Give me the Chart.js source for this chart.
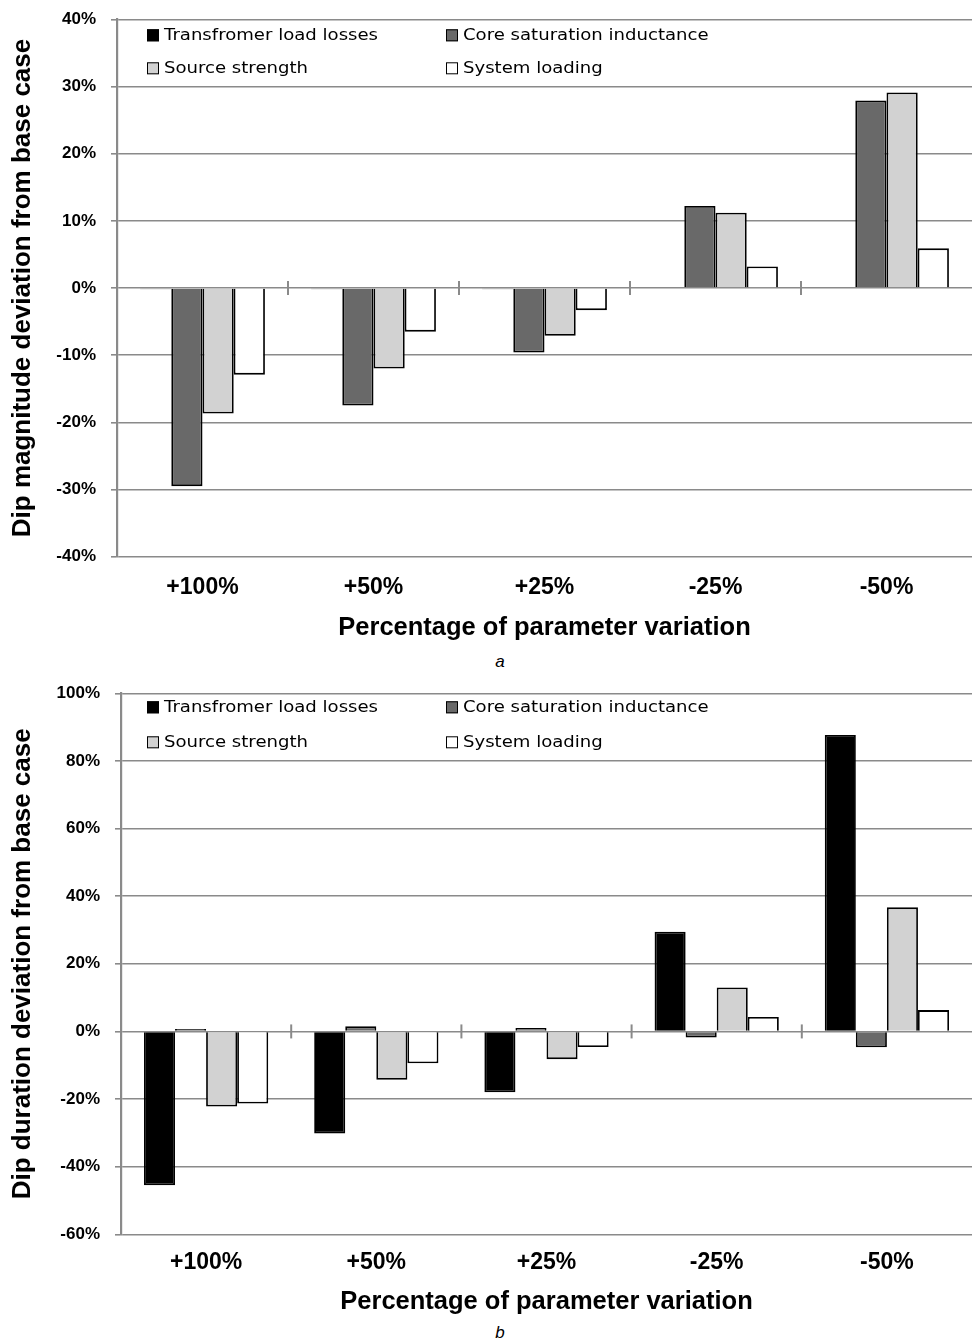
<!DOCTYPE html>
<html>
<head>
<meta charset="utf-8">
<script src="https://cdn.jsdelivr.net/npm/chart.js@4.4.1/dist/chart.umd.min.js"></script>
<style>
  html, body { margin: 0; padding: 0; background: #fff; }
  body { width: 972px; height: 1343px; position: relative; overflow: hidden; }
  .panel { position: absolute; left: 0; width: 972px; height: 650px; }
  .caption { position: absolute; left: 0; width: 1000px; text-align: center;
             font: italic 17px "Liberation Sans", Arial, sans-serif; color: #000; }
</style>
</head>
<body>
<div class="panel" style="top:0"><canvas id="chartA" width="972" height="650"></canvas></div>
<div class="caption" style="top:652px">a</div>
<div class="panel" style="top:672px"><canvas id="chartB" width="972" height="650"></canvas></div>
<div class="caption" style="top:1323px">b</div>

<script>
// Categories: percentage of parameter variation
const categories = ['+100%', '+50%', '+25%', '-25%', '-50%'];

const seriesNames = ['Transfromer load losses', 'Core saturation inductance', 'Source strength', 'System loading'];

// (a) dip magnitude deviation from base case, %
const magTransformerLoss = [-0.2, -0.2, -0.2, 0.1, 0.1];
const magCoreSaturation  = [-29.5, -17.5, -9.6, 12.2, 27.9];
const magSourceStrength  = [-18.7, -12.0, -7.1, 11.2, 29.1];
const magSystemLoading   = [-12.9, -6.5, -3.3, 3.2, 5.9];

// (b) dip duration deviation from base case, %
const durTransformerLoss = [-45.5, -30.2, -18.0, 29.5, 87.7];
const durCoreSaturation  = [0.7, 1.5, 1.0, -1.8, -4.7];
const durSourceStrength  = [-22.2, -14.3, -8.2, 13.0, 36.7];
const durSystemLoading   = [-21.3, -9.4, -4.6, 4.3, 6.3];

// y-axis tick range
const magTicks = { min: -40, max: 40, step: 10 };
const durTicks = { min: -60, max: 100, step: 20 };

const fills = ['#000000', '#696969', '#d2d2d2', '#ffffff'];
const GRID = '#8a8a8a';

// Legend in two columns inside the plot area
const insideLegend = {
  id: 'insideLegend',
  afterDraw(chart) {
    const { ctx, chartArea } = chart;
    const o = chart.options.plugins.insideLegend || {};
    const cols = [chartArea.left + o.dx, chartArea.left + o.dx + 299];
    const rows = [chartArea.top + o.dy, chartArea.top + o.dy + o.rowGap];
    ctx.save();
    chart.data.datasets.forEach((ds, i) => {
      const x = cols[i % 2];
      const y = rows[Math.floor(i / 2)];
      ctx.fillStyle = ds.backgroundColor;
      ctx.fillRect(x, y - 6, 12, 12);
      ctx.strokeStyle = '#000';
      ctx.lineWidth = 1;
      ctx.strokeRect(x + 0.5, y - 5.5, 11, 11);
      ctx.save();
      ctx.translate(x + 17, y);
      ctx.scale(1.13, 1);
      ctx.fillStyle = '#000';
      ctx.font = '16px "DejaVu Sans", sans-serif';
      ctx.textBaseline = 'middle';
      ctx.textAlign = 'left';
      ctx.fillText(ds.label, 0, 1);
      ctx.restore();
    });
    ctx.restore();
  }
};

// Short separators between categories on the zero line
const zeroSeparators = {
  id: 'zeroSeparators',
  afterDatasetsDraw(chart) {
    const { ctx, scales } = chart;
    const xs = scales.x, ys = scales.y;
    const y0 = ys.getPixelForValue(0);
    ctx.save();
    ctx.strokeStyle = GRID;
    ctx.lineWidth = 2;
    for (let i = 1; i < xs.ticks.length; i++) {
      const x = (xs.getPixelForTick(i - 1) + xs.getPixelForTick(i)) / 2;
      ctx.beginPath();
      ctx.moveTo(x, y0 - 7);
      ctx.lineTo(x, y0 + 7);
      ctx.stroke();
    }
    ctx.restore();
  }
};

function makeChart(id, values, ticks, yTitle, geo) {
  const datasets = values.map((vals, i) => ({
    label: seriesNames[i],
    data: vals,
    backgroundColor: fills[i],
    borderColor: '#000000',
    borderWidth: 1.8,
    categoryPercentage: 0.73,
    barPercentage: 1.0
  }));
  return new Chart(document.getElementById(id), {
    type: 'bar',
    data: { labels: categories, datasets },
    plugins: [insideLegend, zeroSeparators],
    options: {
      responsive: false,
      maintainAspectRatio: false,
      devicePixelRatio: 1,
      animation: false,
      layout: { padding: { top: geo.top, right: 0, bottom: 0, left: 0 } },
      plugins: {
        legend: { display: false },
        tooltip: { enabled: false },
        insideLegend: { dx: geo.legendDx, dy: geo.legendDy, rowGap: geo.legendGap }
      },
      scales: {
        x: {
          grid: { display: false, drawTicks: false },
          border: { display: false },
          ticks: {
            color: '#000',
            padding: geo.labelPad,
            font: { family: '"Liberation Sans", Arial, sans-serif', size: 23, weight: 'bold', lineHeight: 1.2 }
          },
          title: {
            display: true,
            text: 'Percentage of parameter variation',
            color: '#000',
            padding: { top: 0, bottom: geo.titlePad },
            font: { family: '"Liberation Sans", Arial, sans-serif', size: 25.5, weight: 'bold', lineHeight: 1.2 }
          },
          afterFit(scale) { scale.height = geo.xHeight; }
        },
        y: {
          min: ticks.min,
          max: ticks.max,
          ticks: {
            stepSize: ticks.step,
            color: '#000',
            padding: 15,
            font: { family: '"Liberation Sans", Arial, sans-serif', size: 17, weight: 'bold' },
            callback: v => v + '%'
          },
          grid: { color: GRID, lineWidth: 1.6, tickLength: 6, drawTicks: true },
          border: { display: true, color: GRID, width: 2.2 },
          title: {
            display: true,
            text: yTitle,
            color: '#000',
            padding: { top: 7, bottom: 0 },
            font: { family: '"Liberation Sans", Arial, sans-serif', size: 26, weight: 'bold', lineHeight: 1.2 }
          },
          afterFit(scale) {
            scale.width = geo.yWidth;
            // plot edges are set by the layout padding alone
            scale.paddingTop = 0;
            scale.paddingBottom = 0;
          }
        }
      }
    }
  });
}

makeChart('chartA',
  [magTransformerLoss, magCoreSaturation, magSourceStrength, magSystemLoading],
  magTicks, 'Dip magnitude deviation from base case',
  { top: 19.3, xHeight: 93.3, labelPad: 17, titlePad: 7, yWidth: 117,
    legendDx: 30, legendDy: 16, legendGap: 33 });

makeChart('chartB',
  [durTransformerLoss, durCoreSaturation, durSourceStrength, durSystemLoading],
  durTicks, 'Dip duration deviation from base case',
  { top: 21.3, xHeight: 87.7, labelPad: 14.5, titlePad: 5, yWidth: 121,
    legendDx: 26, legendDy: 14, legendGap: 35 });
</script>
</body>
</html>
